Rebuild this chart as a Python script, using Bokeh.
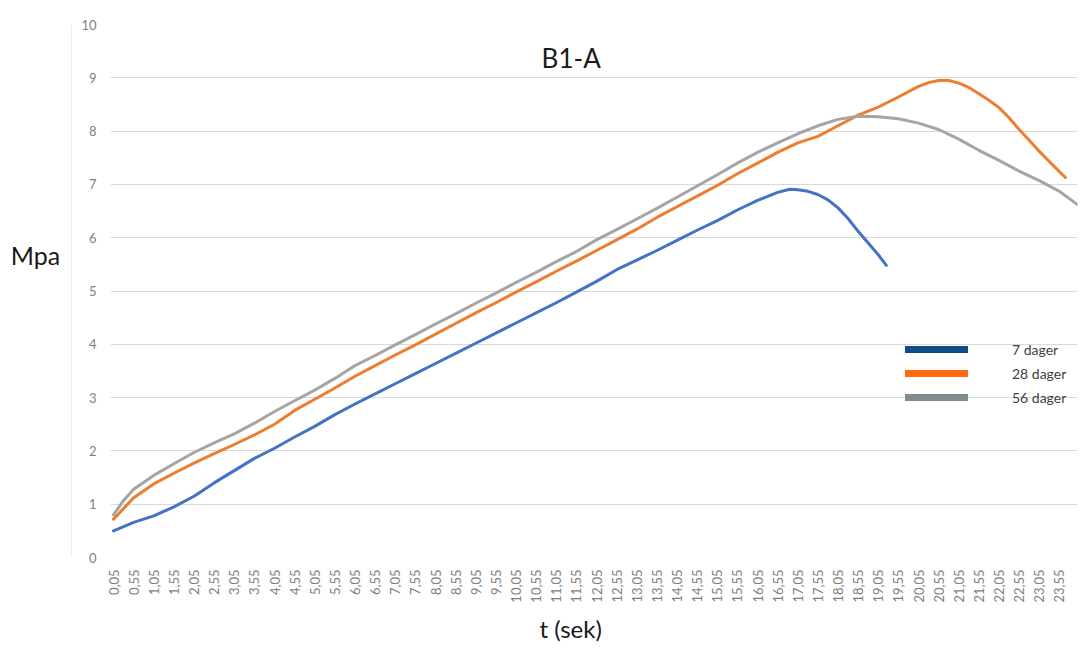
from bokeh.plotting import figure
from bokeh.models import Range1d, FixedTicker, Label, Legend, LegendItem, ColumnDataSource, Title
from bokeh.layouts import row
from bokeh.embed import file_html
from bokeh.resources import INLINE
import math

# ---- data ----
t_7 = [0.05, 0.55, 1.05, 1.55, 2.05, 2.55, 3.05, 3.55, 4.05, 4.55, 5.05, 5.55, 6.05, 6.55, 7.05,
       7.55, 8.05, 8.55, 9.05, 9.55, 10.05, 10.55, 11.05, 11.55, 12.05, 12.55, 13.05, 13.55,
       14.05, 14.55, 15.05, 15.55, 16.05, 16.55, 16.85, 17.05, 17.3, 17.55, 17.8, 18.05, 18.3,
       18.55, 18.8, 19.05, 19.25]
mpa_7 = [0.50, 0.66, 0.78, 0.95, 1.15, 1.40, 1.63, 1.86, 2.05, 2.26, 2.46, 2.68, 2.88, 3.07, 3.26,
         3.45, 3.64, 3.83, 4.02, 4.21, 4.40, 4.59, 4.78, 4.98, 5.18, 5.40, 5.58, 5.76,
         5.95, 6.14, 6.32, 6.52, 6.70, 6.85, 6.91, 6.90, 6.87, 6.81, 6.71, 6.56, 6.36,
         6.12, 5.90, 5.68, 5.48]

t_28 = [0.05, 0.55, 1.05, 1.55, 2.05, 2.55, 3.05, 3.55, 4.05, 4.55, 5.05, 5.55, 6.05, 6.55, 7.05,
        7.55, 8.05, 8.55, 9.05, 9.55, 10.05, 10.55, 11.05, 11.55, 12.05, 12.55, 13.05, 13.55,
        14.05, 14.55, 15.05, 15.55, 16.05, 16.55, 17.05, 17.55, 18.05, 18.55, 19.05, 19.55,
        20.05, 20.3, 20.55, 20.8, 21.05, 21.3, 21.55, 21.8, 22.05, 22.3, 22.55, 22.8, 23.05,
        23.3, 23.55, 23.7]
mpa_28 = [0.72, 1.12, 1.38, 1.58, 1.77, 1.95, 2.12, 2.30, 2.50, 2.76, 2.97, 3.18, 3.40, 3.60, 3.80,
          3.99, 4.19, 4.39, 4.59, 4.78, 4.98, 5.17, 5.37, 5.56, 5.76, 5.96, 6.16, 6.38,
          6.58, 6.78, 6.98, 7.20, 7.40, 7.60, 7.78, 7.90, 8.10, 8.30, 8.45, 8.64,
          8.84, 8.91, 8.95, 8.95, 8.90, 8.82, 8.70, 8.58, 8.44, 8.25, 8.03, 7.83, 7.62,
          7.43, 7.24, 7.13]

t_56 = [0.05, 0.3, 0.55, 1.05, 1.55, 2.05, 2.55, 3.05, 3.55, 4.05, 4.55, 5.05, 5.55, 6.05, 6.55,
        7.05, 7.55, 8.05, 8.55, 9.05, 9.55, 10.05, 10.55, 11.05, 11.55, 12.05, 12.55, 13.05,
        13.55, 14.05, 14.55, 15.05, 15.55, 16.05, 16.55, 17.05, 17.55, 18.05, 18.55, 19.05,
        19.55, 20.05, 20.55, 21.05, 21.55, 22.05, 22.55, 23.05, 23.55, 24.0]
mpa_56 = [0.80, 1.07, 1.28, 1.54, 1.76, 1.97, 2.15, 2.32, 2.52, 2.74, 2.94, 3.14, 3.36, 3.60, 3.79,
          3.99, 4.18, 4.38, 4.57, 4.77, 4.96, 5.16, 5.35, 5.55, 5.74, 5.96, 6.15, 6.35,
          6.55, 6.76, 6.97, 7.18, 7.40, 7.60, 7.78, 7.95, 8.10, 8.22, 8.28, 8.27,
          8.23, 8.15, 8.03, 7.85, 7.64, 7.45, 7.25, 7.07, 6.87, 6.62]

series_names = ["7 dager", "28 dager", "56 dager"]
line_colors = ["#4472C4", "#ED7D31", "#A5A5A5"]
legend_colors = ["#0E4C8A", "#FF6A13", "#7F8C8D"]

x_ticks = [round(0.05 + 0.5 * k, 2) for k in range(48)]
x_tick_labels = {v: f"{v:.2f}".replace(".", ",") for v in x_ticks}
y_ticks = list(range(0, 11))

FONT = "Lato"
LEFT_W = 72
TOP, BOTTOM = 24, 557          # frame edges in page pixels

# ---- left strip: y-axis title "Mpa" and the chart-area border line ----
# (its frame is aligned with the main chart's frame by the row layout)
side = figure(width=LEFT_W, height=650, output_backend="svg", toolbar_location=None,
              x_range=Range1d(0, LEFT_W), y_range=Range1d(BOTTOM, TOP),
              x_axis_location=None, y_axis_location=None,
              min_border_left=0, min_border_right=0, min_border_top=TOP,
              min_border_bottom=650 - BOTTOM)
side.outline_line_color = None
side.xgrid.grid_line_color = None
side.ygrid.grid_line_color = None
side.segment(x0=[LEFT_W - 0.5], y0=[TOP], x1=[LEFT_W - 0.5], y1=[BOTTOM],
             line_color="#D9D9D9", line_width=1)
side.add_layout(Label(x=35, y=254, text="Mpa", text_font=FONT, text_font_size="25px",
                      text_align="center", text_baseline="middle", text_color="#1A1A1A"))

# ---- main chart ----
p = figure(width=1084 - LEFT_W - 4, height=650, output_backend="svg", toolbar_location=None,
           x_range=Range1d(-0.025, 24.0), y_range=Range1d(0, 10),
           min_border_left=110 - LEFT_W, min_border_right=3, min_border_top=TOP,
           min_border_bottom=650 - BOTTOM)
p.outline_line_color = None
p.background_fill_color = "white"
p.border_fill_color = "white"

p.xgrid.grid_line_color = None
p.ygrid.grid_line_color = "#D9D9D9"
p.ygrid.grid_line_width = 1
p.ygrid.ticker = FixedTicker(ticks=y_ticks)

xa = p.xaxis[0]
xa.ticker = FixedTicker(ticks=x_ticks)
xa.major_label_overrides = x_tick_labels
xa.major_label_orientation = math.pi / 2
xa.axis_line_color = None
xa.major_tick_line_color = None
xa.minor_tick_line_color = None
xa.major_label_text_font = FONT
xa.major_label_text_font_size = "13px"
xa.major_label_text_color = "#7F7F7F"
xa.major_label_standoff = 6

ya = p.yaxis[0]
ya.ticker = FixedTicker(ticks=y_ticks)
ya.axis_line_color = None
ya.major_tick_line_color = None
ya.minor_tick_line_color = None
ya.major_label_text_font = FONT
ya.major_label_text_font_size = "13px"
ya.major_label_text_color = "#7F7F7F"
ya.major_label_standoff = 8

data = [(t_7, mpa_7), (t_28, mpa_28), (t_56, mpa_56)]
for (tx, vy), c in zip(data, line_colors):
    p.line(tx, vy, line_color=c, line_width=3, line_join="round", line_cap="round")

items = []
for name, c in zip(series_names, legend_colors):
    src = ColumnDataSource(data=dict(x=[float("nan")], y=[float("nan")]))
    r = p.line(x="x", y="y", source=src, line_color=c, line_width=7, line_cap="round")
    items.append(LegendItem(label=name, renderers=[r]))
legend = Legend(items=items, location=(795, 148), padding=0, margin=0, spacing=0,
                glyph_width=63, glyph_height=24, label_height=24, label_standoff=44,
                border_line_alpha=0, background_fill_alpha=0,
                label_text_font=FONT, label_text_font_size="14px", label_text_color="#404040")
p.add_layout(legend)

p.add_layout(Label(x=11.42, y=9.38, text="B1-A", text_font=FONT, text_font_size="26px",
                   text_align="center", text_baseline="middle", text_color="#1A1A1A"))

xtitle = Title(text="t (sek)", align="left", offset=429, standoff=13,
               text_font=FONT, text_font_size="24px", text_font_style="normal",
               text_color="#1A1A1A")
p.add_layout(xtitle, "below")

layout = row(side, p, spacing=0)
open("out.html", "w").write(file_html(layout, INLINE))
